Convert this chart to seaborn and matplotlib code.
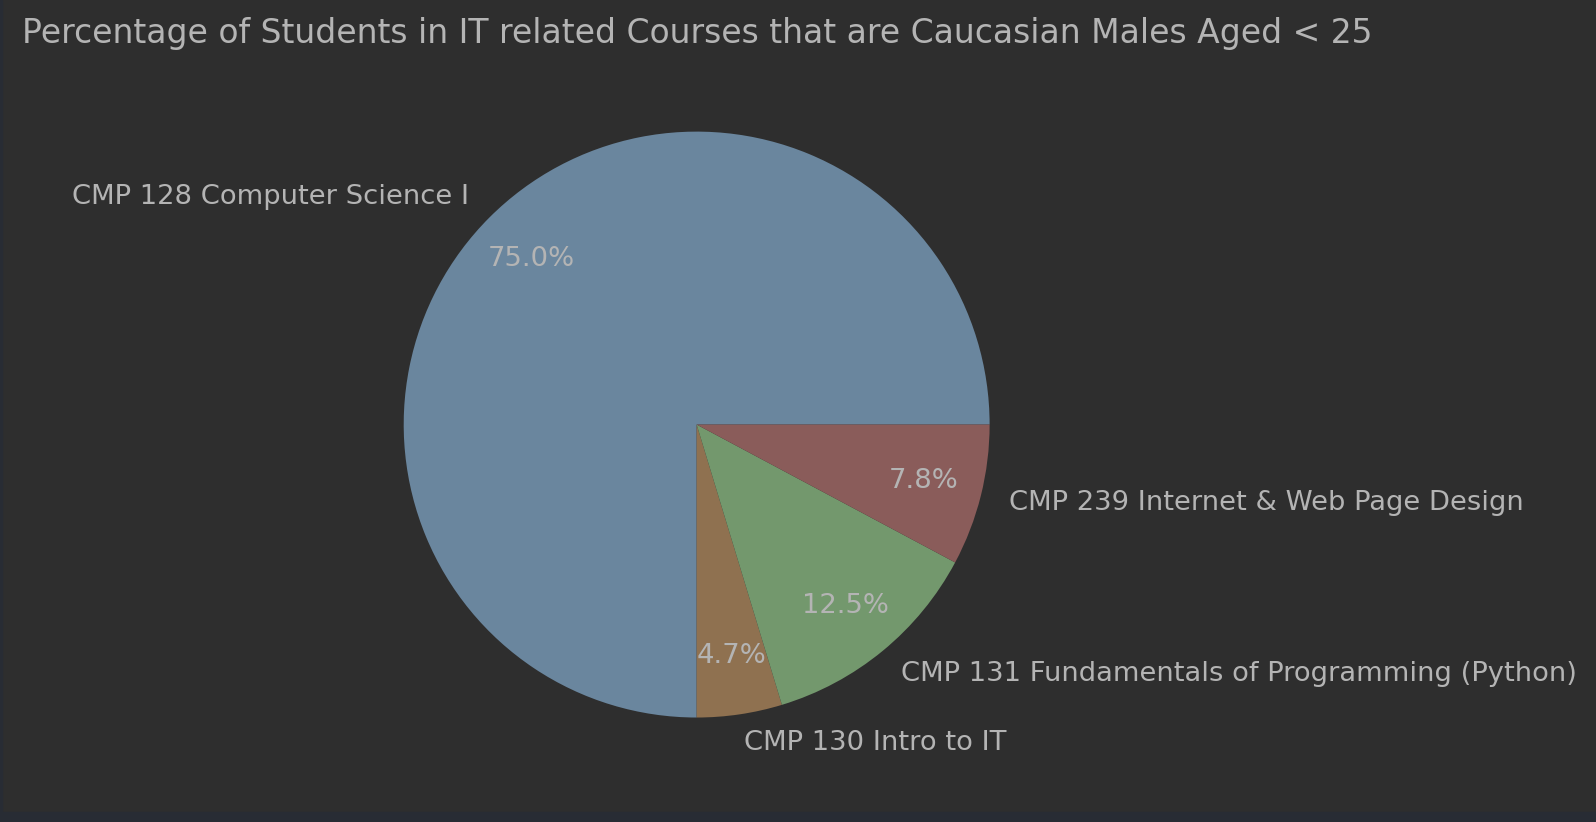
import matplotlib
matplotlib.use('Agg')
import matplotlib.pyplot as plt
from matplotlib.patches import Rectangle
import seaborn as sns

courses = ['CMP 128 Computer Science I',
           'CMP 130 Intro to IT',
           'CMP 131 Fundamentals of Programming (Python)',
           'CMP 239 Internet & Web Page Design']
shares = [75.0, 4.7, 12.5, 7.8]
colors = ['#6a869e', '#8f7150', '#73986d', '#8a5c5a']

bg = '#2e2e2e'
fg = '#b4b4b4'

sns.set_theme(style='dark')
plt.rcParams['font.family'] = ['DejaVu Sans']

fig = plt.figure(figsize=(15.96, 8.22), dpi=100, facecolor=bg)
ax = fig.add_axes([0.207, 0.038, 0.459, 0.891])
ax.set_facecolor(bg)

wedges, texts, autotexts = ax.pie(shares, labels=courses, colors=colors,
                                  autopct='%1.1f%%', pctdistance=0.8,
                                  labeldistance=1.1, startangle=0,
                                  wedgeprops={'linewidth': 0},
                                  textprops={'color': fg, 'fontsize': 19.7})
ax.set_aspect('equal')

fig.text(22 / 1596, 1 - 34 / 822,
         'Percentage of Students in IT related Courses that are Caucasian Males Aged < 25',
         color=fg, fontsize=23.8, ha='left', va='center')

# thin frame strips from the original screenshot
fig.add_artist(Rectangle((0, 0), 1, 10 / 822, transform=fig.transFigure,
                         color='#282c34', zorder=0))
fig.add_artist(Rectangle((0, 0), 2 / 1596, 1, transform=fig.transFigure,
                         color='#282c34', zorder=0))

fig.savefig('out.png', dpi=100, facecolor=bg)
